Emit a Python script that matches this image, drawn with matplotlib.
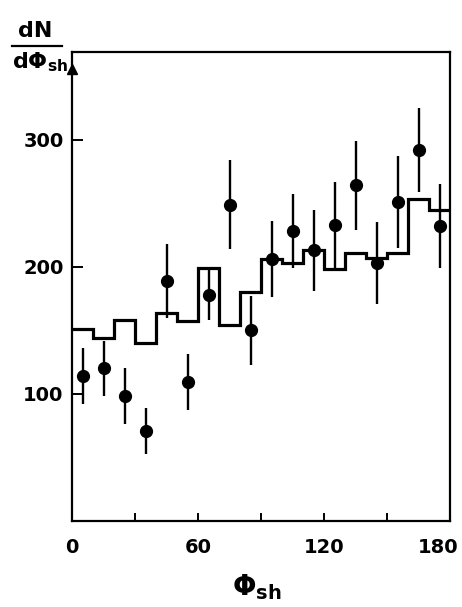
import numpy as np
import matplotlib
matplotlib.use("Agg")
import matplotlib.pyplot as plt
import matplotlib.transforms as mtransforms

# histogram (model) in 10-degree bins
bin_edges = [0, 10, 20, 30, 40, 50, 60, 70, 80, 90, 100, 110, 120, 130, 140, 150, 160, 170, 180]
hist_vals = [151, 144, 158, 140, 164, 157, 199, 154, 180, 206, 203, 213, 198, 211, 207, 211, 253, 245]

# measured points
phi = [5, 15, 25, 35, 45, 55, 65, 75, 85, 95, 105, 115, 125, 135, 145, 155, 165, 175]
dn = [114, 120, 98, 71, 189, 109, 178, 249, 150, 206, 228, 213, 233, 264, 203, 251, 292, 232]
err = [22, 22, 22, 18, 29, 22, 20, 35, 27, 30, 29, 32, 34, 35, 32, 36, 33, 33]

xticks = [0, 60, 120, 180]
xminor = [30, 90, 150]
yticks = [100, 200, 300]

W, H = 462, 607
fig = plt.figure(figsize=(W / 100, H / 100), dpi=100)
ax = fig.add_axes([72 / W, 1 - 521 / H, (450 - 72) / W, (521 - 52) / H])

ax.stairs(hist_vals, bin_edges, color="black", lw=2.3, baseline=None)
ax.errorbar(phi, dn, yerr=err, fmt="o", color="black", ms=8.5,
            elinewidth=1.7, capsize=0)

ax.set_xlim(0, 180)
ax.set_ylim(0, 369)

for s in ax.spines.values():
    s.set_linewidth(1.6)

ax.set_xticks(xticks)
ax.set_xticks(xminor, minor=True)
ax.set_yticks(yticks)
ax.tick_params(axis="both", which="both", direction="in", width=1.4,
               labelsize=14)
ax.tick_params(axis="x", which="both", length=6, pad=12)
ax.tick_params(axis="y", length=8, pad=6)
for lab in ax.get_xticklabels() + ax.get_yticklabels():
    lab.set_fontweight("bold")

# the last x label sits a bit inside, as in the original
fig.canvas.draw()
last = ax.get_xticklabels()[-1]
last.set_transform(last.get_transform() +
                   mtransforms.ScaledTranslation(-12 / 100, 0, fig.dpi_scale_trans))

# arrow head at top of the y axis
ax.plot([0], [356], marker="^", color="black", ms=7, clip_on=False)

# axis labels
fig.text(257 / W, 1 - 587 / H, r"$\mathbf{\Phi_{sh}}$", fontsize=20,
         ha="center", va="center")
fig.text(35 / W, 1 - 31 / H, "dN", fontsize=16, fontweight="bold",
         ha="center", va="center")
fig.add_artist(plt.Line2D([12 / W, 62 / W], [1 - 46 / H, 1 - 46 / H],
                          color="black", lw=1.6))
fig.text(40 / W, 1 - 62 / H, r"$\mathbf{d\Phi_{sh}}$", fontsize=16,
         ha="center", va="center")

fig.savefig("out.png", dpi=100)
